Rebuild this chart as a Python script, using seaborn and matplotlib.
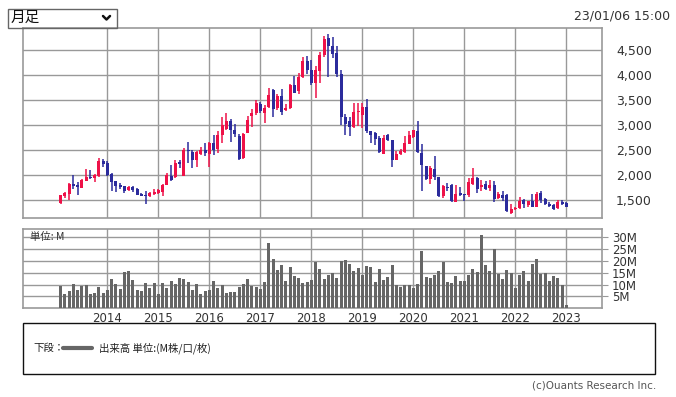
import numpy as np
import pandas as pd
import matplotlib
matplotlib.use("Agg")
import matplotlib.pyplot as plt
import seaborn as sns
from matplotlib.patches import Rectangle
from matplotlib.lines import Line2D

# monthly candles, Feb 2013 .. Jan 2023
months = pd.period_range("2013-02", "2023-01", freq="M")

opens = [1453, 1593, 1633, 1833, 1800, 1753, 1893, 1973, 1953, 1987,
         2287, 2253, 2033, 1887, 1813, 1787, 1707, 1760, 1727, 1633,
         1613, 1593, 1627, 1647, 1667, 1813, 1987, 1967, 2260, 1993,
         2500, 2467, 2313, 2427, 2500, 2427, 2640, 2533, 2800, 2927,
         3080, 2900, 2793, 2347, 2853, 3173, 3247, 3420, 3247, 3360,
         3693, 3333, 3587, 3293, 3333, 3807, 3680, 3967, 4280, 4100,
         3833, 4073, 4400, 4747, 4580, 4447, 4027, 3160, 3080, 2967,
         3253, 3193, 3367, 2880, 2847, 2747, 2433, 2800, 2707, 2313,
         2433, 2460, 2633, 2767, 2880, 2440, 2193, 1933, 2127, 1967,
         1580, 1767, 1807, 1473, 1647, 1620, 1607, 1827, 1947, 1773,
         1827, 1747, 1800, 1547, 1600, 1613, 1247, 1327, 1340, 1507,
         1413, 1493, 1373, 1647, 1533, 1433, 1413, 1340, 1473, 1447]
highs = [1613, 1673, 1847, 2013, 1867, 1927, 2127, 2100, 2033, 2347,
         2327, 2280, 2053, 1887, 1840, 1787, 1780, 1787, 1747, 1653,
         1680, 1660, 1727, 1727, 1833, 2040, 2200, 2307, 2300, 2547,
         2667, 2500, 2480, 2567, 2640, 2660, 2800, 2880, 3160, 3247,
         3127, 3033, 2827, 2840, 3180, 3320, 3493, 3467, 3393, 3740,
         3713, 3613, 3727, 3427, 3813, 3987, 4047, 4353, 4380, 4307,
         4180, 4467, 4787, 4827, 4760, 4580, 4093, 3227, 3160, 3440,
         3440, 3447, 3513, 2880, 2867, 2780, 2800, 2827, 2707, 2493,
         2533, 2793, 2880, 2913, 3080, 2627, 2193, 2193, 2393, 1967,
         1800, 1847, 1833, 1800, 1760, 1620, 1940, 2147, 1967, 1913,
         1893, 1913, 1880, 1660, 1680, 1633, 1427, 1367, 1567, 1533,
         1493, 1633, 1667, 1680, 1547, 1460, 1433, 1500, 1513, 1460]
lows = [1433, 1547, 1513, 1733, 1613, 1747, 1880, 1933, 1867, 1967,
        2173, 1980, 1687, 1673, 1727, 1653, 1693, 1673, 1613, 1580,
        1433, 1573, 1613, 1620, 1593, 1800, 1880, 1947, 2147, 1980,
        2253, 2147, 2167, 2400, 2380, 2173, 2400, 2447, 2647, 2913,
        2660, 2760, 2300, 2327, 2840, 2973, 3200, 3240, 3047, 3333,
        3167, 3293, 3207, 3280, 3313, 3633, 3613, 3947, 4013, 3800,
        3533, 3847, 4360, 3967, 4333, 3960, 3013, 2800, 2780, 2940,
        2980, 2947, 2853, 2647, 2613, 2447, 2427, 2680, 2160, 2307,
        2413, 2447, 2627, 2747, 2453, 1680, 1913, 1833, 1913, 1560,
        1547, 1693, 1467, 1467, 1593, 1480, 1573, 1813, 1647, 1680,
        1707, 1680, 1467, 1533, 1480, 1267, 1233, 1313, 1327, 1347,
        1367, 1367, 1367, 1447, 1413, 1367, 1313, 1327, 1413, 1367]
closes = [1600, 1653, 1833, 1793, 1760, 1907, 1967, 1947, 2013, 2287,
          2227, 2013, 1867, 1793, 1760, 1680, 1767, 1707, 1613, 1593,
          1580, 1653, 1673, 1707, 1813, 2013, 1900, 2253, 2220, 2507,
          2480, 2313, 2467, 2500, 2447, 2640, 2507, 2800, 3000, 3080,
          2900, 2833, 2333, 2820, 3107, 3247, 3447, 3280, 3347, 3607,
          3313, 3587, 3260, 3347, 3793, 3647, 3960, 4273, 4100, 3847,
          4093, 4400, 4727, 4580, 4413, 4013, 3160, 3033, 2960, 3267,
          3273, 3367, 2880, 2813, 2733, 2467, 2747, 2700, 2313, 2427,
          2487, 2647, 2807, 2907, 2467, 2213, 1933, 2147, 1960, 1580,
          1780, 1747, 1480, 1633, 1613, 1600, 1860, 1947, 1733, 1813,
          1727, 1800, 1533, 1633, 1547, 1280, 1320, 1347, 1493, 1427,
          1480, 1373, 1633, 1500, 1433, 1393, 1333, 1467, 1433, 1373]
# volume in millions
volumes = [9.3, 5.9, 7.2, 10.1, 7.6, 9.3, 9.7, 5.9, 6.3, 8.9,
           6.3, 7.6, 12.3, 10.1, 8.0, 15.2, 15.6, 11.8, 7.6, 7.2,
           10.6, 8.5, 10.6, 5.9, 10.6, 8.5, 11.4, 10.1, 12.7, 12.3,
           11.0, 7.6, 10.1, 5.9, 7.2, 7.6, 11.4, 8.5, 9.7, 6.3,
           6.8, 6.8, 8.9, 10.1, 12.3, 9.3, 8.9, 8.0, 11.0, 27.5,
           20.7, 16.1, 18.2, 11.4, 17.3, 13.5, 12.7, 10.6, 11.0, 11.8,
           19.4, 16.5, 12.3, 13.9, 14.8, 12.7, 19.9, 20.3, 18.6, 15.6,
           16.9, 13.9, 17.7, 17.3, 11.0, 16.5, 11.8, 13.1, 18.2, 9.7,
           8.9, 9.7, 9.7, 8.5, 10.1, 24.1, 13.1, 12.7, 13.9, 15.6,
           19.4, 11.0, 10.6, 13.5, 11.4, 11.4, 13.9, 16.5, 15.2, 30.8,
           18.2, 15.6, 24.9, 14.4, 12.3, 16.1, 14.8, 8.5, 13.9, 15.6,
           11.4, 18.6, 20.7, 14.4, 14.8, 11.4, 13.5, 12.7, 9.7, 1.3]

price_ticks = [1500, 2000, 2500, 3000, 3500, 4000, 4500]
vol_ticks = [5, 10, 15, 20, 25, 30]

df = pd.DataFrame({"open": opens, "high": highs, "low": lows,
                   "close": closes, "volume": volumes})
df["x"] = np.arange(len(df))
df["up"] = df["close"] >= df["open"]
year_pos = df["x"][months.month == 1].tolist()
year_lab = [str(p.year) for p in months[months.month == 1]]

RED = "#EE1148"
BLUE = "#2B2B9C"
GRID = "#999999"
JP = ["Noto Sans CJK JP", "DejaVu Sans"]

sns.set_style("white")
W, H = 676, 397


def fx(px):
    return px / W


def fy(py):
    return 1 - py / H


fig = plt.figure(figsize=(W / 100, H / 100), dpi=100)
ax_p = fig.add_axes([fx(23.3), fy(218.3), (602 - 23.3) / W, 190 / H])
ax_v = fig.add_axes([fx(23.3), fy(308.3), (602 - 23.3) / W, 79 / H])

# candles
cols = np.where(df["up"], RED, BLUE)
ax_p.vlines(df["x"], df["low"], df["high"], colors=cols, lw=1.1, zorder=3)
body_lo = df[["open", "close"]].min(axis=1)
body_h = (df["close"] - df["open"]).abs().clip(lower=12)
ax_p.bar(df["x"], body_h, bottom=body_lo, width=0.72, color=cols, lw=0, zorder=4)

xlim = (-8.76, 127.4)
ax_p.set_xlim(*xlim)
ax_p.set_ylim(1140, 4934)
ax_p.set_yticks(price_ticks)
ax_p.set_yticklabels([f"{v:,}" for v in price_ticks])
ax_p.yaxis.tick_right()
ax_p.set_xticks(year_pos)
ax_p.set_xticklabels([])
ax_p.tick_params(axis="both", length=0)
ax_p.tick_params(axis="y", pad=10, labelsize=9, labelcolor="#333333")
ax_p.grid(True, color=GRID, lw=1)
ax_p.set_axisbelow(True)
for s in ax_p.spines.values():
    s.set_color(GRID)
    s.set_linewidth(1.2)

# volume
sns.barplot(data=df, x="x", y="volume", native_scale=True, color="#666666",
            saturation=1, width=0.72, linewidth=0, ax=ax_v, zorder=3)
ax_v.set_xlim(*xlim)
ax_v.set_ylim(0, 33.4)
ax_v.set_xlabel("")
ax_v.set_ylabel("")
ax_v.set_yticks(vol_ticks)
ax_v.set_yticklabels([f"{v}M" for v in vol_ticks], family=["Liberation Sans Narrow", "DejaVu Sans"])
ax_v.yaxis.tick_right()
ax_v.set_xticks(year_pos)
ax_v.set_xticklabels(year_lab)
ax_v.tick_params(axis="y", length=4, color=GRID, pad=3, labelsize=8.5, labelcolor="#333333")
ax_v.tick_params(axis="x", length=0, pad=3, labelsize=8.5, labelcolor="#333333")
ax_v.grid(True, color=GRID, lw=1)
ax_v.set_axisbelow(True)
for s in ax_v.spines.values():
    s.set_color(GRID)
    s.set_linewidth(1.2)
ax_v.text(0.012, 0.9, "単位: M", transform=ax_v.transAxes, fontsize=7.5,
          family=JP, color="#333333", va="center", ha="left", zorder=2)

# selector box top-left
fig.patches.append(Rectangle((fx(7.5), fy(27.5)), 109 / W, 19 / H, transform=fig.transFigure,
                             fill=False, edgecolor="#666666", lw=1))
fig.text(fx(11), fy(18), "月足", family=JP, fontsize=10.5, va="center", ha="left", color="#111111")
fig.lines.append(Line2D([fx(103), fx(106.5), fx(110)], [fy(16), fy(19.5), fy(16)],
                        transform=fig.transFigure, color="#111111", lw=1.8))

fig.text(fx(670), fy(16), "23/01/06 15:00", fontsize=9, ha="right", va="center", color="#333333")

# legend box
fig.patches.append(Rectangle((fx(23), fy(374)), 632 / W, 51 / H, transform=fig.transFigure,
                             fill=False, edgecolor="#111111", lw=1))
fig.text(fx(33), fy(348), "下段：", family=JP, fontsize=7.5, va="center", ha="left", color="#222222")
fig.lines.append(Line2D([fx(63), fx(92)], [fy(348), fy(348)], transform=fig.transFigure,
                        color="#666666", lw=3))
fig.text(fx(99), fy(348), "出来高 単位:(M株/口/枚)", family=JP, fontsize=7.5,
         va="center", ha="left", color="#222222")

fig.text(fx(656), fy(385), "(c)Ouants Research Inc.", fontsize=7.5, ha="right", va="center",
         color="#555555", family=["Liberation Sans Narrow", "DejaVu Sans"])

fig.savefig("out.png", dpi=100)
